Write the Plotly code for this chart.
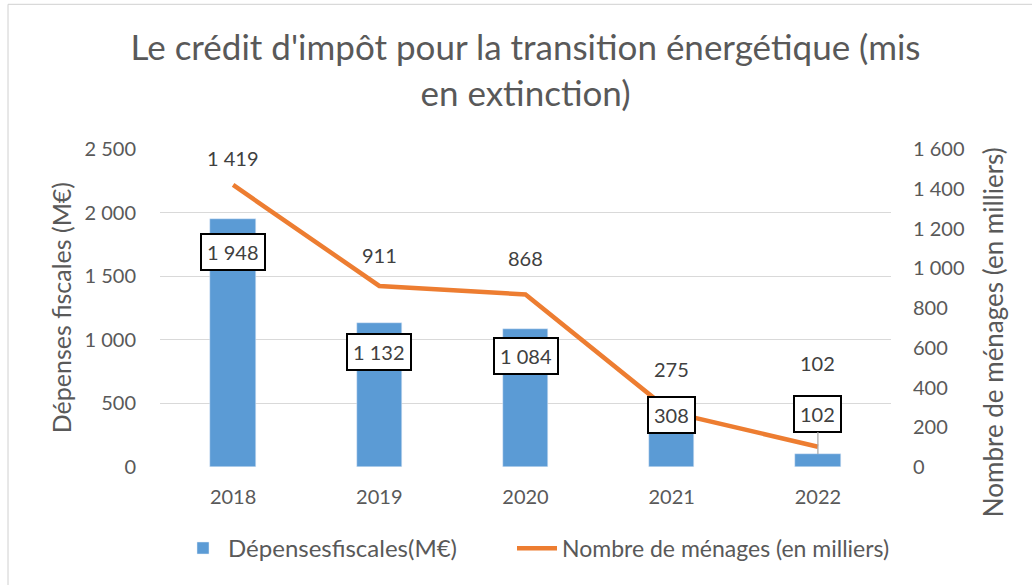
import plotly.graph_objects as go

# ---- data ----
years = ["2018", "2019", "2020", "2021", "2022"]
depenses = [1948, 1132, 1084, 308, 102]          # M€ (left axis)
menages = [1419, 911, 868, 275, 102]             # milliers (right axis)
left_ticks = [0, 500, 1000, 1500, 2000, 2500]
right_ticks = [0, 200, 400, 600, 800, 1000, 1200, 1400, 1600]

title_text = "Le crédit d'impôt pour la transition énergétique (mis<br>en extinction)"
bar_name = "Dépensesfiscales(M€)"
line_name = "Nombre de ménages (en milliers)"
left_title = "Dépenses fiscales (M€)"
right_title = "Nombre de ménages (en milliers)"

# ---- label placement (pixel offsets, style only) ----
bar_label_shift = [-33, -29, -27, 13, 0]
bar_label_arrow = [None, None, None, None, -40]
line_label_shift = [27, 31, 36, 43, 84]

GREY = "#595959"
FONT = "Lato"

def fmt(v):
    return f"{v:,}".replace(",", " ")

fig = go.Figure()
fig.add_trace(go.Bar(
    x=years, y=depenses, name=bar_name, marker_color="#5B9BD5",
    width=0.31, yaxis="y", legend="legend",
))
fig.add_trace(go.Scatter(
    x=years, y=menages, name=line_name, mode="lines",
    line=dict(color="#ED7D31", width=4.5), yaxis="y2", legend="legend2",
))

annotations = []
for i, (v, sh, arr) in enumerate(zip(depenses, bar_label_shift, bar_label_arrow)):
    a = dict(x=i, y=v, xref="x", yref="y", text=fmt(v),
             font=dict(family=FONT, size=20, color="#404040"),
             bgcolor="white", bordercolor="black", borderwidth=2,
             borderpad=5, height=24)
    if arr is None:
        a.update(showarrow=False, yshift=sh)
    else:
        a.update(showarrow=True, arrowhead=0, arrowwidth=1.2,
                 arrowcolor="#A6A6A6", ax=0, ay=arr, standoff=0)
    annotations.append(a)

for i, (v, sh) in enumerate(zip(menages, line_label_shift)):
    annotations.append(dict(x=i, y=v, xref="x", yref="y2", text=fmt(v),
                            showarrow=False, yshift=sh,
                            font=dict(family=FONT, size=20, color="#404040")))

annotations.append(dict(x=-0.135, y=0.5, xref="paper", yref="paper",
                        xanchor="center", yanchor="middle",
                        text=left_title, textangle=-90, showarrow=False,
                        font=dict(family=FONT, size=25, color=GREY)))
annotations.append(dict(x=1.1395, y=0.424, xref="paper", yref="paper",
                        xanchor="center", yanchor="middle",
                        text=right_title, textangle=-90, showarrow=False,
                        font=dict(family=FONT, size=26, color=GREY)))

fig.update_layout(
    width=1032, height=585,
    margin=dict(l=160, r=141, t=149, b=118),
    paper_bgcolor="white", plot_bgcolor="white",
    separators=", ",
    title=dict(text=title_text, x=0.5, xref="paper", xanchor="center",
               y=1 - 60 / 585, yref="container", yanchor="middle",
               font=dict(family=FONT, size=35, color=GREY)),
    font=dict(family=FONT, color=GREY),
    showlegend=True,
    legend=dict(orientation="h", x=(178 - 160) / 731, y=-0.256,
                xanchor="left", yanchor="middle",
                font=dict(family=FONT, size=24, color=GREY), itemwidth=40),
    legend2=dict(orientation="h", x=(512 - 160) / 731, y=-0.256,
                 xanchor="left", yanchor="middle",
                 font=dict(family=FONT, size=23, color=GREY), itemwidth=40),
    xaxis=dict(type="category", range=[-0.5, 4.5], showgrid=False,
               showline=False, zeroline=False,
               ticks="", tickfont=dict(family=FONT, size=20, color=GREY),
               ticklabelstandoff=16),
    yaxis=dict(range=[0, 2500], tickvals=left_ticks, tickformat=",d",
               showgrid=True, gridcolor="#D9D9D9", gridwidth=1.3,
               zeroline=False, showline=False, ticks="",
               tickfont=dict(family=FONT, size=20, color=GREY),
               ticklabelstandoff=23),
    yaxis2=dict(range=[0, 1600], tickvals=right_ticks, tickformat=",d",
                overlaying="y", side="right", showgrid=False,
                zeroline=False, showline=False, ticks="",
                tickfont=dict(family=FONT, size=20, color=GREY),
                ticklabelstandoff=21),
    annotations=annotations,
    bargap=0.0,
)

fig.add_shape(type="rect", xref="paper", yref="paper",
              x0=-0.2079, x1=1.25, y0=-0.45, y1=1.455,
              line=dict(color="#D0D0D0", width=1), layer="below")

fig.write_html("out.html", config={"displayModeBar": False},
               post_script="document.body.style.margin='0';")
